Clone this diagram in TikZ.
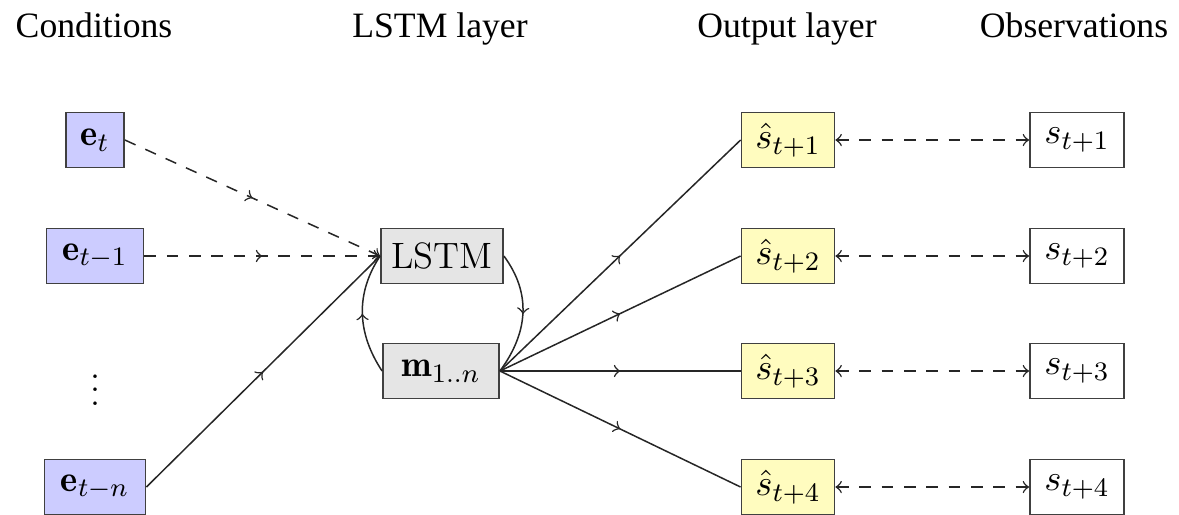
\documentclass[tikz,border=0pt]{standalone}
\usepackage{fontspec}
\newfontfamily\hdrfont{Liberation Serif}
\usetikzlibrary{decorations.markings,arrows}
\begin{document}
\begin{tikzpicture}[x=0.3pt,y=-0.3pt,
  box/.style={draw=black!75, line width=0.55pt, minimum height=16.5pt, inner xsep=1pt, inner ysep=1pt, font=\fontsize{11}{13}\selectfont},
  cond/.style={box, fill=blue!20},
  lstmbox/.style={box, fill=black!10},
  outbox/.style={box, fill=yellow!25},
  obsbox/.style={box, fill=white},
  hdr/.style={font=\hdrfont\fontsize{10.7}{12}\selectfont, anchor=base},
  conn/.style={line width=0.45pt, black!85},
  dsh/.style={dash pattern=on 3.5pt off 3.2pt},
  midarrow/.style={postaction={decorate}, decoration={markings, mark=at position 0.5 with {\arrow{to}}}}
]
\useasboundingbox (0,0) rectangle (1179,514);
% headers
\node[hdr] (h1) at (94,37) {Conditions};
\node[hdr] (h2) at (440,37) {LSTM layer};
\node[hdr] (h3) at (787,37) {Output layer};
\node[hdr] (h4) at (1074,37) {Observations};
% conditions
\node[cond, minimum width=17.4pt] (e0) at (95,140) {$\mathbf{e}_t$};
\node[cond, minimum width=29.1pt] (e1) at (95,256) {$\mathbf{e}_{t-1}$};
\node[font=\fontsize{11}{13}\selectfont] (dots) at (95,380) {$\vdots$};
\node[cond, minimum width=30.3pt] (en) at (95,487) {$\mathbf{e}_{t-n}$};
% LSTM
\node[lstmbox, minimum width=36.6pt] (lstm) at (442,256) {LSTM};
\node[lstmbox, minimum width=34.8pt] (m) at (441,371) {$\mathbf{m}_{1..n}$};
% outputs
\foreach \k/\y in {1/140,2/256,3/371,4/487}{
  \node[outbox, minimum width=27.9pt] (o\k) at (788,\y) {$\hat{s}_{t+\k}$};
  \node[obsbox, minimum width=28.2pt] (s\k) at (1077,\y) {$s_{t+\k}$};
}
% connectors
\draw[conn, dsh, midarrow, -to] (e0.east) -- (lstm.west);
\draw[conn, dsh, midarrow, -to] (e1.east) -- (lstm.west);
\draw[conn, midarrow] (en.east) -- (lstm.west);
\draw[conn, midarrow] (lstm.east) .. controls +(28,38) and +(28,-38) .. (m.east);
\draw[conn, midarrow] (m.west) .. controls +(-25,-38) and +(-25,38) .. (lstm.west);
\foreach \k in {1,2,3,4}{
  \draw[conn, midarrow] (m.east) -- (o\k.west);
  \draw[conn, dsh, to-to] (o\k.east) -- (s\k.west);
}
\end{tikzpicture}
\end{document}
